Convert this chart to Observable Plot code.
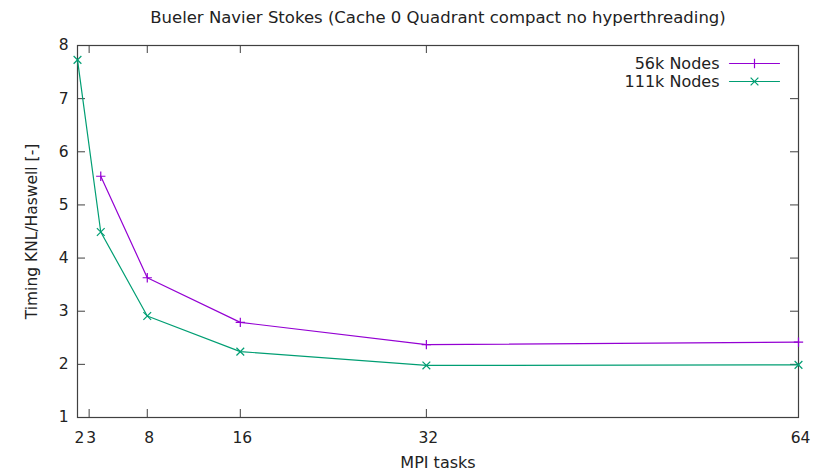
<!DOCTYPE html>
<html>
<head>
<meta charset="utf-8">
<script src="https://cdn.jsdelivr.net/npm/d3@7"></script>
<script src="https://cdn.jsdelivr.net/npm/@observablehq/plot@0.6"></script>
<style>
  html, body { margin: 0; padding: 0; background: #fff; }
  svg { font-family: "DejaVu Sans", sans-serif; }
</style>
</head>
<body>
<div id="chart"></div>
<script>
const title = "Bueler Navier Stokes (Cache 0 Quadrant compact no hyperthreading)";
const xLabel = "MPI tasks";
const yLabel = "Timing KNL/Haswell [-]";
const xTicks = [2, 3, 8, 16, 32, 64];
const yTicks = [1, 2, 3, 4, 5, 6, 7, 8];
const seriesNames = ["56k Nodes", "111k Nodes"];
const seriesColors = ["#9400d3", "#009e73"];
const seriesSymbols = ["plus", "times"];
const tasks56k = [4, 8, 16, 32, 64];
const timing56k = [5.54, 3.63, 2.79, 2.37, 2.42];
const tasks111k = [2, 4, 8, 16, 32, 64];
const timing111k = [7.73, 4.49, 2.91, 2.24, 1.98, 1.99];

const data = [
  ...tasks56k.map((t, i) => ({series: seriesNames[0], x: t, y: timing56k[i]})),
  ...tasks111k.map((t, i) => ({series: seriesNames[1], x: t, y: timing111k[i]}))
];

const W = 825, H = 472, mT = 45, mB = 55, mL = 77, mR = 27;
const innerW = W - mL - mR, innerH = H - mT - mB, tickLen = 8;
const border = "#404040";
const symbolR = [3.1, 3.6];
const hShape = {draw(ctx, l) { ctx.moveTo(-l / 2, 0); ctx.lineTo(l / 2, 0); }};

const legendMarks = seriesNames.flatMap((name, i) => [
  Plot.text([name], {frameAnchor: "top-right", lineAnchor: "middle", text: d => d, dx: -79, dy: 18 + 18 * i,
    textAnchor: "end", fontSize: 16, fill: "#222"}),
  Plot.vector([name], {frameAnchor: "top-right", anchor: "start", dx: -44, dy: 18 + 18 * i, length: 50,
    rotate: 0, shape: hShape, stroke: seriesColors[i], strokeWidth: 1.2}),
  Plot.dot([name], {frameAnchor: "top-right", dx: -44, dy: 18 + 18 * i, r: symbolR[i],
    symbol: seriesSymbols[i], stroke: seriesColors[i], strokeWidth: 1.2})
]);

const dotMarks = seriesNames.map((name, i) =>
  Plot.dot(data.filter(d => d.series === name), {x: "x", y: "y", symbol: seriesSymbols[i],
    stroke: seriesColors[i], r: symbolR[i], strokeWidth: 1.2})
);

const chart = Plot.plot({
  width: W,
  height: H,
  marginTop: mT,
  marginBottom: mB,
  marginLeft: mL,
  marginRight: mR,
  style: {fontFamily: "DejaVu Sans, sans-serif", fontSize: "16px", color: "#222"},
  x: {type: "linear", domain: [2, 64]},
  y: {type: "linear", domain: [1, 8]},
  color: {domain: seriesNames, range: seriesColors},
  marks: [
    // inward ticks on all four sides
    Plot.tickX(xTicks, {x: d => d, insetTop: innerH - tickLen, stroke: border}),
    Plot.tickX(xTicks, {x: d => d, insetBottom: innerH - tickLen, stroke: border}),
    Plot.tickY(yTicks, {y: d => d, insetRight: innerW - tickLen, stroke: border}),
    Plot.tickY(yTicks, {y: d => d, insetLeft: innerW - tickLen, stroke: border}),
    Plot.frame({stroke: border, strokeWidth: 1.2}),
    Plot.axisX({ticks: xTicks, tickSize: 0, tickPadding: 14, tickFormat: d => String(d), fontSize: 15.5, dx: 2,
      label: null}),
    Plot.axisX({ticks: [], tickSize: 0, label: xLabel, labelAnchor: "center", labelArrow: "none", labelOffset: 50, fontSize: 16}),
    Plot.axisY({ticks: yTicks, tickSize: 0, tickPadding: 9, tickFormat: d => String(d), fontSize: 15.5,
      label: yLabel, labelAnchor: "center", labelArrow: "none", labelOffset: 52}),
    Plot.line(data, {x: "x", y: "y", z: "series", stroke: "series", strokeWidth: 1.2}),
    ...dotMarks,
    Plot.text([title], {frameAnchor: "top", lineAnchor: "middle", text: d => d, dy: -28, fontSize: 16.5, fill: "#222"}),
    ...legendMarks
  ]
});
document.getElementById("chart").appendChild(chart);
</script>
</body>
</html>
